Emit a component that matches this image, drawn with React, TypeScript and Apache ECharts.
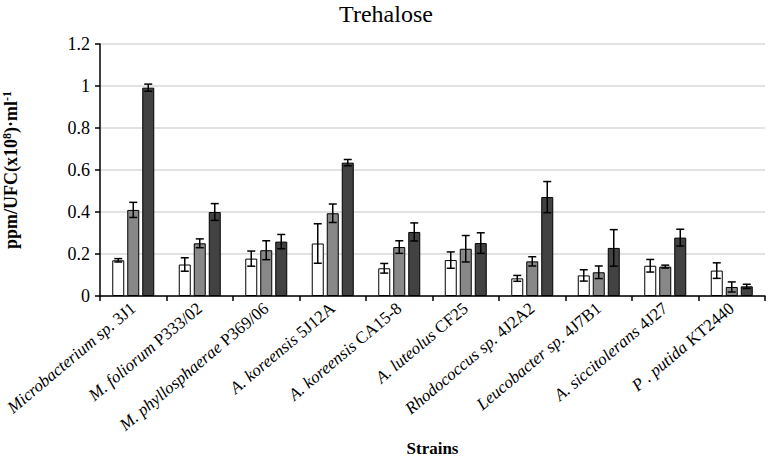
import React, { useEffect, useRef } from "react";
import * as echarts from "echarts";

const strainItalic = [
  "Microbacterium sp.",
  "M. foliorum",
  "M. phyllosphaerae",
  "A. koreensis",
  "A. koreensis",
  "A. luteolus",
  "Rhodococcus sp.",
  "Leucobacter sp.",
  "A. siccitolerans",
  "P . putida",
];
const strainCode = ["3J1", "P333/02", "P369/06", "5J12A", "CA15-8", "CF25", "4J2A2", "4J7B1", "4J27", "KT2440"];
const categories = strainItalic.map((s, i) => s + " " + strainCode[i]);

const seriesA = [0.17, 0.15, 0.178, 0.25, 0.132, 0.171, 0.084, 0.098, 0.144, 0.121];
const errA = [0.008, 0.032, 0.036, 0.094, 0.023, 0.039, 0.014, 0.027, 0.03, 0.037];
const seriesB = [0.41, 0.251, 0.218, 0.394, 0.233, 0.225, 0.165, 0.113, 0.14, 0.043];
const errB = [0.036, 0.021, 0.045, 0.044, 0.03, 0.063, 0.022, 0.03, 0.007, 0.024];
const seriesC = [0.992, 0.4, 0.259, 0.635, 0.305, 0.252, 0.471, 0.229, 0.278, 0.046];
const errC = [0.017, 0.04, 0.034, 0.015, 0.043, 0.049, 0.074, 0.087, 0.04, 0.01];

const yTicks = { min: 0, max: 1.2, interval: 0.2 };

const FONT = "Liberation Serif";

function errorSeries(values: number[], errs: number[], offset: number) {
  return {
    type: "custom",
    z: 10,
    data: values.map((v, i) => [i, v, errs[i]]),
    encode: { x: 0, y: 1 },
    renderItem: (params: any, api: any) => {
      const idx = api.value(0);
      const v = api.value(1);
      const e = api.value(2);
      const top = api.coord([idx, v + e]);
      const bot = api.coord([idx, v - e]);
      const x = top[0] + offset;
      const cap = 4;
      const style = { stroke: "#000", lineWidth: 1.5 };
      return {
        type: "group",
        children: [
          { type: "line", shape: { x1: x, y1: top[1], x2: x, y2: bot[1] }, style },
          { type: "line", shape: { x1: x - cap, y1: top[1], x2: x + cap, y2: top[1] }, style },
          { type: "line", shape: { x1: x - cap, y1: bot[1], x2: x + cap, y2: bot[1] }, style },
        ],
      };
    },
  };
}

export default function App() {
  const ref = useRef<HTMLDivElement>(null);
  useEffect(() => {
    document.body.style.margin = "0";
    if (!ref.current) return;
    const chart = echarts.init(ref.current, null, { renderer: "svg" });
    const barStyle = (color: string) => ({ color, borderColor: "#000", borderWidth: 1 });
    chart.setOption({
      animation: false,
      textStyle: { fontFamily: FONT },
      title: {
        text: "Trehalose",
        left: 381,
        top: -3,
        textAlign: "center",
        textStyle: { fontFamily: FONT, fontSize: 24, fontWeight: "normal", color: "#000" },
      },
      grid: { left: 100, right: 5, top: 44, bottom: 161, containLabel: false, outerBoundsMode: "none" },
      xAxis: {
        type: "category",
        data: categories,
        name: "Strains",
        nameLocation: "middle",
        nameGap: 142,
        nameTextStyle: { fontFamily: FONT, fontSize: 17, fontWeight: "bold", color: "#000" },
        axisLine: { lineStyle: { color: "#000", width: 1.5 } },
        axisTick: { show: true, length: 5, lineStyle: { color: "#000", width: 1.5 } },
        axisLabel: {
          interval: 0,
          rotate: 40,
          margin: 10,
          fontFamily: FONT,
          fontSize: 17,
          color: "#000",
          formatter: (_v: string, i: number) => `{i|${strainItalic[i]}} {n|${strainCode[i]}}`,
          rich: {
            i: { fontStyle: "italic", fontFamily: FONT, fontSize: 17, color: "#000" },
            n: { fontFamily: FONT, fontSize: 17, color: "#000" },
          },
        },
      },
      yAxis: {
        type: "value",
        min: yTicks.min,
        max: yTicks.max,
        interval: yTicks.interval,
        name: "{b|ppm/UFC(x10}{s|8}{b|)·ml}{s|-1}",
        nameLocation: "middle",
        nameGap: 79,
        nameTextStyle: {
          fontFamily: FONT,
          fontSize: 18,
          fontWeight: "bold",
          color: "#000",
          rich: {
            b: { fontFamily: FONT, fontSize: 18, fontWeight: "bold", color: "#000", lineHeight: 20 },
            s: { fontFamily: FONT, fontSize: 12, fontWeight: "bold", color: "#000", verticalAlign: "top", lineHeight: 20 },
          },
        },
        axisLine: { show: true, lineStyle: { color: "#000", width: 1.5 } },
        axisTick: { show: true, length: 5, lineStyle: { color: "#000", width: 1.5 } },
        axisLabel: { fontFamily: FONT, fontSize: 18, color: "#000", margin: 10 },
        splitLine: { lineStyle: { color: "#d9d9d9", width: 1.5 } },
      },
      series: [
        { type: "bar", data: seriesA, barWidth: 12, barGap: "25%", itemStyle: barStyle("#ffffff") },
        { type: "bar", data: seriesB, barWidth: 12, barGap: "25%", itemStyle: barStyle("#888888") },
        { type: "bar", data: seriesC, barWidth: 12, barGap: "25%", itemStyle: barStyle("#424242") },
        errorSeries(seriesA, errA, -15),
        errorSeries(seriesB, errB, 0),
        errorSeries(seriesC, errC, 15),
      ],
    });
    return () => chart.dispose();
  }, []);
  return <div ref={ref} style={{ width: 770, height: 457 }} />;
}
